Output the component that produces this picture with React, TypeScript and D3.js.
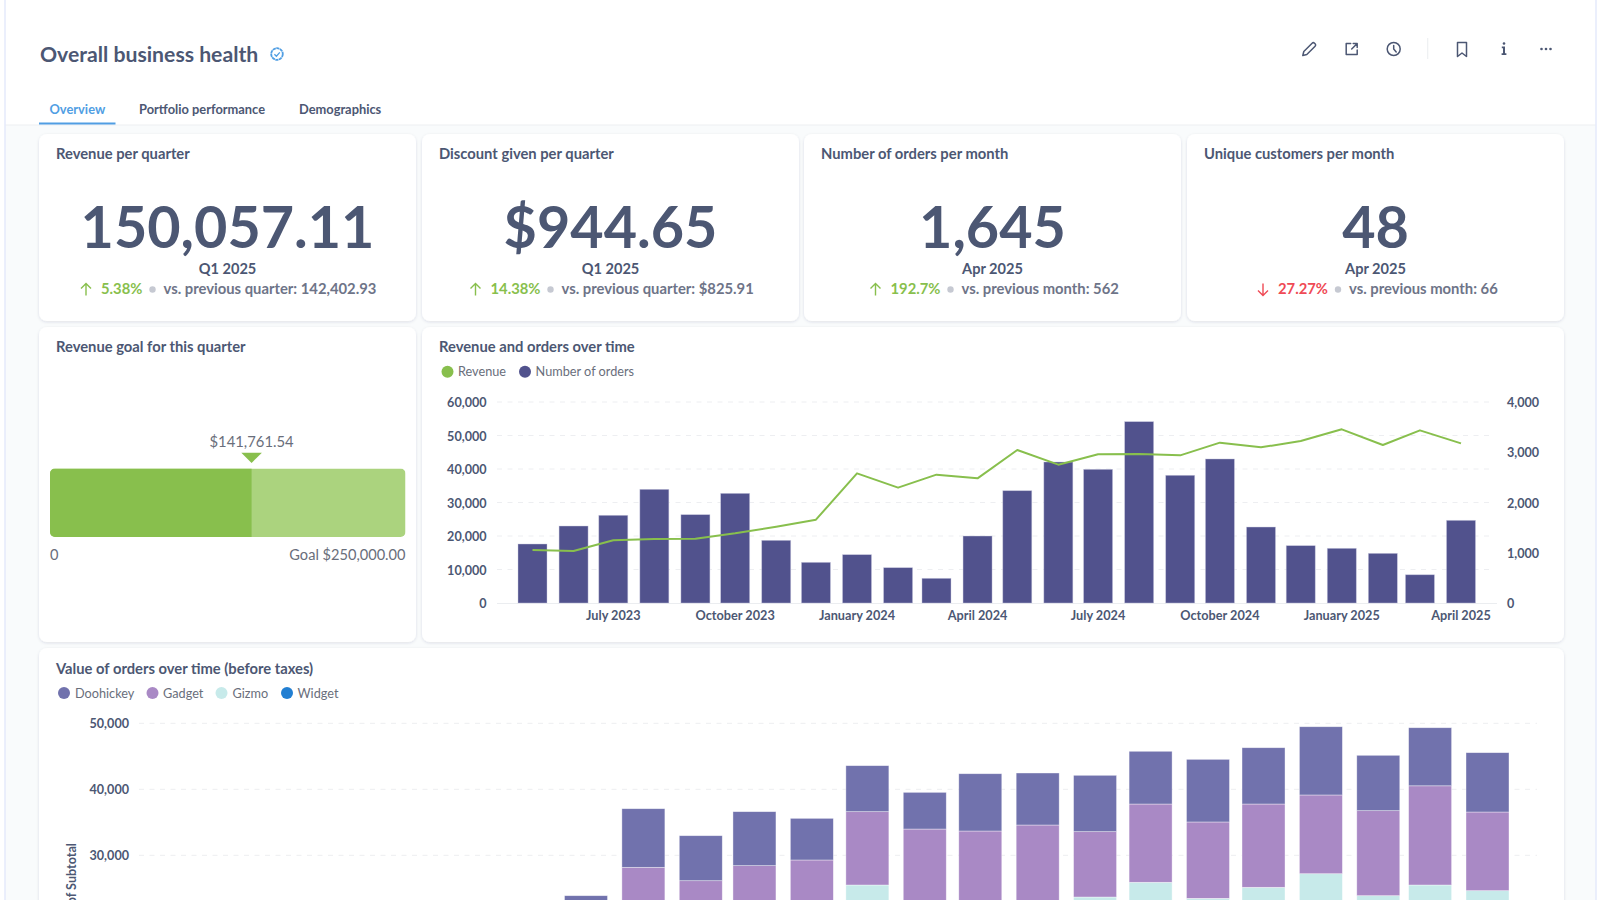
import React from "react";
import * as d3 from "d3";

const months = ["2023-05","2023-06","2023-07","2023-08","2023-09","2023-10","2023-11","2023-12","2024-01","2024-02","2024-03","2024-04","2024-05","2024-06","2024-07","2024-08","2024-09","2024-10","2024-11","2024-12","2025-01","2025-02","2025-03","2025-04"];
const orders = [1174,1532,1745,2262,1758,2182,1247,809,962,703,491,1333,2235,2806,2660,3609,2541,2866,1512,1141,1088,988,562,1645];
const revenue = [15820,15522,18706,19104,19204,20796,22786,24876,38706,34428,38308,37214,45672,41294,44378,44478,44080,47861,46468,48358,51841,47164,51542,47662];
const leftTicks = [0,10000,20000,30000,40000,50000,60000];
const rightTicks = [0,1000,2000,3000,4000];
const xTickMonths = ["2023-07","2023-10","2024-01","2024-04","2024-07","2024-10","2025-01","2025-04"];

const stackMonths = ["2023-12","2024-01","2024-02","2024-03","2024-04","2024-05","2024-06","2024-07","2024-08","2024-09","2024-10","2024-11","2024-12","2025-01","2025-02","2025-03","2025-04"];
const widget = [10000,15000,14000,15000,15500,16000,15000,15000,15000,14500,15500,15000,15000,16500,15000,16000,15500];
const gizmo = [6000,6000,6000,6500,6500,9500,7500,7500,8000,9180,10410,8480,10150,10710,8880,9500,9140];
const gadget = [4500,7180,6150,6930,7290,11110,11480,11180,11590,9900,11860,11570,12620,11930,12880,15030,11920];
const doohickey = [3380,8880,6820,8180,6310,6970,5560,8680,7880,8540,7990,9490,8530,10340,8390,8800,8990];
const stackTicks = [30000,40000,50000];

const goalValue = 141761.54;
const goalTarget = 250000;

const kpis = [
  { title: "Revenue per quarter", value: "150,057.11", period: "Q1 2025", delta: "5.38%", up: true, note: "vs. previous quarter: 142,402.93", x0: 39, x1: 416, arrow: 86, deltaX: 101, dot: 152.5, noteX: 163.5 },
  { title: "Discount given per quarter", value: "$944.65", period: "Q1 2025", delta: "14.38%", up: true, note: "vs. previous quarter: $825.91", x0: 422, x1: 799, arrow: 475.5, deltaX: 490.5, dot: 550.5, noteX: 561.5 },
  { title: "Number of orders per month", value: "1,645", period: "Apr 2025", delta: "192.7%", up: true, note: "vs. previous month: 562", x0: 804, x1: 1181, arrow: 875.5, deltaX: 890.5, dot: 950.5, noteX: 961.5 },
  { title: "Unique customers per month", value: "48", period: "Apr 2025", delta: "27.27%", up: false, note: "vs. previous month: 66", x0: 1187, x1: 1564, arrow: 1263, deltaX: 1278, dot: 1338, noteX: 1349 },
];

const FONT = "Lato, sans-serif";
const INK = "#4C5773";
const MUTED = "#696E7B";
const GREEN = "#88BF4D";
const RED = "#EF4A55";
const NAVY = "#51528D";
const GRID = "#EDEEF1";
const BLUE = "#509EE3";
const stackColors: Record<string, string> = { widget: "#227FD2", gizmo: "#C7EAEA", gadget: "#A989C5", doohickey: "#7172AD" };

const parseMonth = d3.timeParse("%Y-%m");
const d = (m: string) => parseMonth(m) as Date;

function Card({ x0, x1, y0, y1 }: { x0: number; x1: number; y0: number; y1: number }) {
  return <rect x={x0} y={y0} width={x1 - x0} height={y1 - y0} rx={8} fill="#fff" filter="url(#cardShadow)" />;
}

function T(p: any) {
  return <text fontFamily={FONT} fill={INK} {...p}>{p.children}</text>;
}

function KpiCard({ k }: { k: (typeof kpis)[number] }) {
  const cx = (k.x0 + k.x1) / 2;
  const color = k.up ? GREEN : RED;
  const ax = k.arrow;
  return (
    <g>
      <Card x0={k.x0} x1={k.x1} y0={134} y1={321} />
      <T x={k.x0 + 17} y={159} fontSize={14.75} fontWeight={700}>{k.title}</T>
      <T x={cx} y={247.5} fontSize={57.5} fontWeight={700} textAnchor="middle">{k.value}</T>
      <T x={cx} y={274} fontSize={14.6} fontWeight={700} textAnchor="middle">{k.period}</T>
      <path
        d={k.up
          ? `M${ax} 295.5V283.5M${ax - 5} 288.5L${ax} 283.5L${ax + 5} 288.5`
          : `M${ax} 283.5V295.5M${ax - 5} 290.5L${ax} 295.5L${ax + 5} 290.5`}
        fill="none" stroke={color} strokeWidth={1.4}
      />
      <T x={k.deltaX} y={294} fontSize={14.8} fontWeight={700} fill={color}>{k.delta}</T>
      <circle cx={k.dot} cy={289.5} r={3.2} fill="#C6C9D2" />
      <T x={k.noteX} y={294} fontSize={14.8} fontWeight={700} fill="#6E7488">{k.note}</T>
    </g>
  );
}

function Header() {
  const ic = { fill: "none", stroke: INK, strokeWidth: 1.5, strokeLinejoin: "round" as const, strokeLinecap: "round" as const };
  return (
    <g>
      <T x={40} y={61.5} fontSize={21.2} fontWeight={700}>Overall business health</T>
      <circle cx={277} cy={54} r={5.8} fill="none" stroke={BLUE} strokeWidth={1.8} strokeDasharray="3.2 0.5" />
      <path d="M274.4 54.2l2 2 3.4-3.8" fill="none" stroke={BLUE} strokeWidth={1.3} />
      <T x={49.5} y={113.6} fontSize={12.85} fontWeight={700} fill={BLUE}>Overview</T>
      <T x={139} y={113.6} fontSize={12.85} fontWeight={700}>Portfolio performance</T>
      <T x={299} y={113.6} fontSize={12.85} fontWeight={700}>Demographics</T>
      <rect x={39} y={122.5} width={76.5} height={2} fill={BLUE} />
      <g transform="translate(1309.3 49)" {...ic}>
        <path d="M-6.5 6.5l1-4L2.8-5.8a1.7 1.7 0 0 1 2.4 0l.6.6a1.7 1.7 0 0 1 0 2.4L-2.5 5.5z" />
      </g>
      <g transform="translate(1351.7 49)" {...ic}>
        <path d="M-1 -5.5H-5.5V5.5H5.5V1M0 0L5.5 -5.5M1.5 -5.5H5.5V-1.5" />
      </g>
      <g transform="translate(1393.7 49)" {...ic}>
        <circle r={6.5} />
        <path d="M0 -3.5V0L2.5 3" />
      </g>
      <line x1={1427.7} x2={1427.7} y1={38} y2={59} stroke="#EEF0F2" strokeWidth={1.2} />
      <path d="M-4.5 -7H4.5V7L0 3.5L-4.5 7Z" transform="translate(1462 49.5)" {...ic} />
      <g transform="translate(1504 49)" fill={INK}>
        <circle cy={-5.5} r={1.3} />
        <path d="M-2.2 -2.5H1V4.2H2.4V6H-2.4V4.2H-1V-0.8H-2.2Z" />
      </g>
      <g transform="translate(1546 49)" fill={INK}>
        <circle cx={-4.5} r={1.3} /><circle r={1.3} /><circle cx={4.5} r={1.3} />
      </g>
    </g>
  );
}

function Gauge() {
  const x = d3.scaleLinear().domain([0, goalTarget]).range([50, 405.5]);
  const px = x(goalValue);
  return (
    <g>
      <Card x0={39} x1={416} y0={327} y1={642} />
      <T x={56} y={352} fontSize={14.75} fontWeight={700}>Revenue goal for this quarter</T>
      <T x={px} y={446.5} fontSize={14.8} textAnchor="middle" fill="#696E7B">$141,761.54</T>
      <path d={`M${px - 10.3} 452.7H${px + 10.3}L${px} 463Z`} fill={GREEN} />
      <defs>
        <clipPath id="gaugeClip"><rect x={x(0)} y={468.5} width={x(goalTarget) - x(0)} height={68.5} rx={5} /></clipPath>
      </defs>
      <g clipPath="url(#gaugeClip)">
        <rect x={x(0)} y={468.5} width={x(goalTarget) - x(0)} height={68.5} fill="#ABD37E" />
        <rect x={x(0)} y={468.5} width={px - x(0)} height={68.5} fill={GREEN} />
      </g>
      <T x={x(0)} y={560.3} fontSize={14.6} fill="#696E7B">0</T>
      <T x={x(goalTarget)} y={560.3} fontSize={14.6} textAnchor="end" fill="#696E7B">Goal $250,000.00</T>
    </g>
  );
}

function Combo() {
  const dates = months.map(d);
  const x = d3.scaleTime().domain([dates[0], dates[dates.length - 1]]).range([532.5, 1461]);
  const yL = d3.scaleLinear().domain([0, 60000]).range([603, 402]);
  const yR = d3.scaleLinear().domain([0, 4000]).range([603, 402]);
  const fmt = d3.format(",");
  const tfmt = d3.timeFormat("%B %Y");
  const line = d3.line<number>().x((_, i) => x(dates[i])).y(v => yL(v));
  const bw = 29;
  return (
    <g>
      <Card x0={422} x1={1564} y0={327} y1={642} />
      <T x={439} y={352} fontSize={14.75} fontWeight={700}>Revenue and orders over time</T>
      <circle cx={447.5} cy={371.7} r={6} fill={GREEN} />
      <T x={458} y={376.3} fontSize={12.7} fill={MUTED}>Revenue</T>
      <circle cx={525} cy={371.7} r={6} fill={NAVY} />
      <T x={535.6} y={376.3} fontSize={12.7} fill={MUTED}>Number of orders</T>
      {leftTicks.map(t => (
        <g key={t}>
          {t > 0 && <line x1={497} x2={1492} y1={yL(t)} y2={yL(t)} stroke={GRID} strokeDasharray="5 5.5" />}
          <T x={486.6} y={yL(t) + 5} fontSize={12.6} fontWeight={700} textAnchor="end">{fmt(t)}</T>
        </g>
      ))}
      {rightTicks.map(t => (
        <T key={t} x={1507} y={yR(t) + 5} fontSize={12.6} fontWeight={700}>{fmt(t)}</T>
      ))}
      <line x1={497} x2={1497} y1={603.5} y2={603.5} stroke="#EBEDF0" />
      {orders.map((v, i) => (
        <rect key={i} x={x(dates[i]) - bw / 2} y={yR(v)} width={bw} height={603 - yR(v)} fill={NAVY} stroke="#C9CAE0" strokeOpacity={0.6} strokeWidth={0.7} />
      ))}
      <path d={line(revenue) as string} fill="none" stroke={GREEN} strokeWidth={2} strokeLinejoin="round" />
      {xTickMonths.map(m => (
        <T key={m} x={x(d(m))} y={620} fontSize={12.7} fontWeight={700} textAnchor="middle">{tfmt(d(m))}</T>
      ))}
    </g>
  );
}

function Stacked() {
  const dates = stackMonths.map(d);
  const x = d3.scaleTime().domain([dates[0], dates[dates.length - 1]]).range([586, 1487.5]);
  const y = d3.scaleLinear().domain([30000, 50000]).range([855.3, 723.3]);
  const rows = stackMonths.map((m, i) => ({ m, widget: widget[i], gizmo: gizmo[i], gadget: gadget[i], doohickey: doohickey[i] }));
  const layers = d3.stack<any>().keys(["widget", "gizmo", "gadget", "doohickey"])(rows);
  const fmt = d3.format(",");
  const bw = 43;
  const legend = [
    { name: "Doohickey", key: "doohickey", cx: 64, tx: 75 },
    { name: "Gadget", key: "gadget", cx: 152.5, tx: 163 },
    { name: "Gizmo", key: "gizmo", cx: 221.5, tx: 232.6 },
    { name: "Widget", key: "widget", cx: 287, tx: 297.5 },
  ];
  return (
    <g>
      <Card x0={39} x1={1564} y0={648} y1={960} />
      <T x={56} y={674} fontSize={14.75} fontWeight={700}>Value of orders over time (before taxes)</T>
      {legend.map(l => (
        <g key={l.key}>
          <circle cx={l.cx} cy={693} r={6} fill={stackColors[l.key]} />
          <T x={l.tx} y={697.6} fontSize={12.7} fill={MUTED}>{l.name}</T>
        </g>
      ))}
      {stackTicks.map(t => (
        <g key={t}>
          <line x1={139} x2={1537} y1={y(t)} y2={y(t)} stroke={GRID} strokeDasharray="5 5.5" />
          <T x={129} y={y(t) + 5} fontSize={12.6} fontWeight={700} textAnchor="end">{fmt(t)}</T>
        </g>
      ))}
      <T transform="translate(76 843) rotate(-90)" fontSize={12.6} fontWeight={700} textAnchor="end">
        Sum of Subtotal
      </T>
      {layers.map(layer => layer.map((seg, i) => (
        <rect key={layer.key + i} x={x(dates[i]) - bw / 2} y={y(seg[1])} width={bw} height={y(seg[0]) - y(seg[1])}
          fill={stackColors[layer.key]} stroke="#fff" strokeOpacity={0.55} strokeWidth={0.7} />
      )))}
    </g>
  );
}

export default function App() {
  return (
    <svg width={1600} height={900} viewBox="0 0 1600 900" style={{ position: "fixed", left: 0, top: 0, display: "block" }}>
      <defs>
        <filter id="cardShadow" x="-5%" y="-5%" width="110%" height="110%">
          <feDropShadow dx={0} dy={1} stdDeviation={1.6} floodColor="#2A3550" floodOpacity={0.13} />
        </filter>
      </defs>
      <rect width={1600} height={900} fill="#fff" />
      <rect x={5} y={125} width={1591} height={775} fill="#F9FBFC" />
      <line x1={5} x2={1596} y1={125} y2={125} stroke="#EDEFF2" strokeWidth={1.2} />
      <line x1={5} x2={5} y1={0} y2={900} stroke="#E4EAFB" strokeWidth={1.5} />
      <line x1={1596} x2={1596} y1={0} y2={900} stroke="#E4EAFB" strokeWidth={1.5} />
      <Header />
      {kpis.map(k => <KpiCard key={k.title} k={k} />)}
      <Gauge />
      <Combo />
      <Stacked />
    </svg>
  );
}
